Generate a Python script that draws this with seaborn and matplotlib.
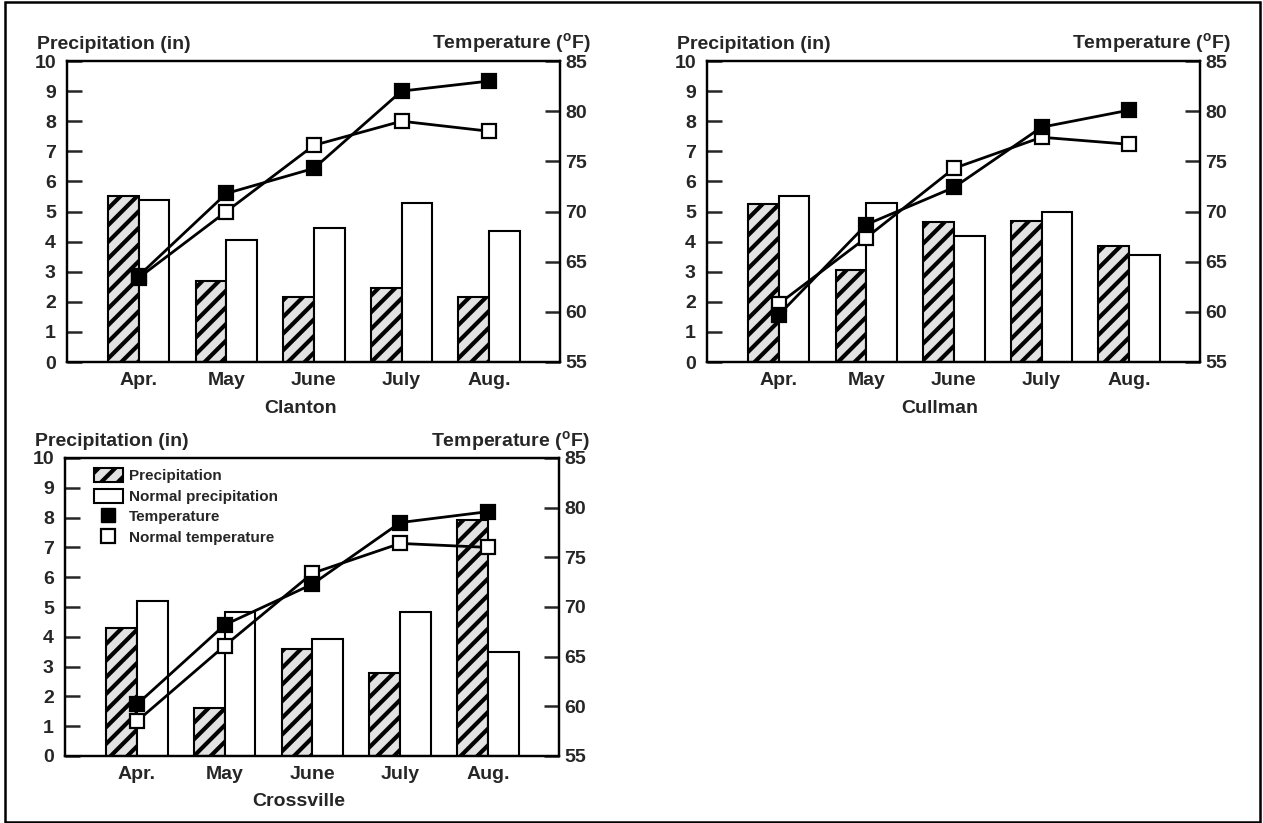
import numpy as np
import pandas as pd
import matplotlib
matplotlib.use("Agg")
import matplotlib.pyplot as plt
import seaborn as sns
from matplotlib.patches import Patch, Rectangle
from matplotlib.lines import Line2D

# ---------------- data ----------------
months = ['Apr.', 'May', 'June', 'July', 'Aug.']
kinds = ['Precipitation', 'Normal precipitation']

clanton_precip = [5.50, 2.68, 2.16, 2.46, 2.16]
clanton_normal_precip = [5.39, 4.04, 4.44, 5.29, 4.35]
clanton_temp = [63.6, 71.8, 74.3, 82.0, 83.0]
clanton_normal_temp = [63.4, 70.0, 76.6, 79.0, 78.0]

cullman_precip = [5.26, 3.04, 4.64, 4.70, 3.86]
cullman_normal_precip = [5.52, 5.29, 4.19, 4.98, 3.55]
cullman_temp = [59.7, 68.7, 72.4, 78.4, 80.1]
cullman_normal_temp = [60.8, 67.4, 74.3, 77.4, 76.7]

crossville_precip = [4.30, 1.62, 3.60, 2.80, 7.92]
crossville_normal_precip = [5.20, 4.83, 3.93, 4.82, 3.50]
crossville_temp = [60.2, 68.2, 72.3, 78.5, 79.6]
crossville_normal_temp = [58.5, 66.1, 73.4, 76.4, 76.0]

precip_ticks = list(range(0, 11))
temp_ticks = [55, 60, 65, 70, 75, 80, 85]

# ---------------- style ----------------
sns.set_style("white")
plt.rcParams['font.family'] = ['Liberation Sans', 'DejaVu Sans']
plt.rcParams['font.weight'] = 'bold'
plt.rcParams['mathtext.fontset'] = 'custom'
plt.rcParams['mathtext.rm'] = 'Liberation Sans:bold'
plt.rcParams['mathtext.bf'] = 'Liberation Sans:bold'
plt.rcParams['hatch.linewidth'] = 3.0
plt.rcParams['hatch.color'] = 'black'

HATCH_FACE = '#e2e2e2'

W, H = 1263, 823
fig = plt.figure(figsize=(W / 100, H / 100), dpi=100)
fig.patch.set_facecolor('white')


def px_axes(x0, y0, x1, y1):
    return fig.add_axes([x0 / W, 1 - y1 / H, (x1 - x0) / W, (y1 - y0) / H])


def panel(ax, name, precip, normal_precip, temp, normal_temp):
    df = pd.DataFrame({
        'month': months * 2,
        'kind': [kinds[0]] * 5 + [kinds[1]] * 5,
        'value': list(precip) + list(normal_precip),
    })
    sns.barplot(data=df, x='month', y='value', hue='kind', order=months,
                hue_order=kinds, palette={kinds[0]: HATCH_FACE, kinds[1]: 'white'},
                saturation=1, edgecolor='black', linewidth=1.5, width=0.7,
                legend=False, ax=ax, errorbar=None)
    for bar in ax.containers[0]:
        bar.set_hatch('//')
    ax.set_xlim(-0.82, 4.81)
    ax.set_ylim(0, 10)
    ax.set_yticks(precip_ticks)
    ax.set_ylabel('')
    ax.set_xlabel(name, fontsize=14, fontweight='bold', labelpad=5)
    ax.xaxis.set_label_coords(0.473, -0.125)
    ax.tick_params(axis='x', length=0, pad=7, labelsize=14)
    ax.tick_params(axis='y', direction='in', length=11, width=1.8, pad=8,
                   labelsize=14)
    for s in ax.spines.values():
        s.set_linewidth(1.6)
        s.set_color('black')

    ax2 = ax.twinx()
    x = np.arange(len(months))
    sns.lineplot(x=x, y=normal_temp, ax=ax2, color='black', lw=2.0,
                 marker='s', markersize=10, markerfacecolor='white',
                 markeredgecolor='black', markeredgewidth=1.6)
    sns.lineplot(x=x, y=temp, ax=ax2, color='black', lw=2.0,
                 marker='s', markersize=10, markerfacecolor='black',
                 markeredgecolor='black', markeredgewidth=1.6)
    ax2.set_ylim(55, 85)
    ax2.set_yticks(temp_ticks)
    ax2.set_ylabel('')
    ax2.tick_params(axis='y', direction='in', length=11, width=1.8, pad=4,
                    labelsize=14)
    for s in ax2.spines.values():
        s.set_linewidth(1.6)
        s.set_color('black')

    ax.text(-0.061, 1.056, 'Precipitation (in)', transform=ax.transAxes,
            ha='left', va='center', fontsize=14, fontweight='bold')
    ax.text(1.062, 1.056, r'Temperature ($^{\mathbf{o}}$F)', transform=ax.transAxes,
            ha='right', va='center', fontsize=14, fontweight='bold')
    return ax, ax2


ax_a = px_axes(67, 61, 560, 362)
panel(ax_a, 'Clanton', clanton_precip, clanton_normal_precip,
      clanton_temp, clanton_normal_temp)

ax_b = px_axes(707, 61, 1200, 362)
panel(ax_b, 'Cullman', cullman_precip, cullman_normal_precip,
      cullman_temp, cullman_normal_temp)

ax_c = px_axes(65, 458, 559, 756)
_, ax_c2 = panel(ax_c, 'Crossville', crossville_precip, crossville_normal_precip,
                 crossville_temp, crossville_normal_temp)

handles = [
    Patch(facecolor=HATCH_FACE, edgecolor='black', hatch='//', linewidth=1.5),
    Patch(facecolor='white', edgecolor='black', linewidth=1.5),
    Line2D([0], [0], ls='none', marker='s', ms=10, mfc='black', mec='black'),
    Line2D([0], [0], ls='none', marker='s', ms=10, mfc='white', mec='black', mew=1.6),
]
labels = ['Precipitation', 'Normal precipitation', 'Temperature', 'Normal temperature']
ax_c2.legend(handles, labels, loc='upper left', bbox_to_anchor=(0.058, 0.965),
             frameon=False, prop={'size': 11, 'weight': 'bold'},
             handlelength=1.9, handleheight=1.0, handletextpad=0.4,
             labelspacing=0.35, borderaxespad=0, borderpad=0)

fig.patches.append(Rectangle((5 / W, 1 / H), (1260 - 5) / W, (821 - 1) / H,
                             transform=fig.transFigure, fill=False,
                             edgecolor='black', linewidth=1.8))

fig.savefig('out.png', dpi=100, facecolor='white')
